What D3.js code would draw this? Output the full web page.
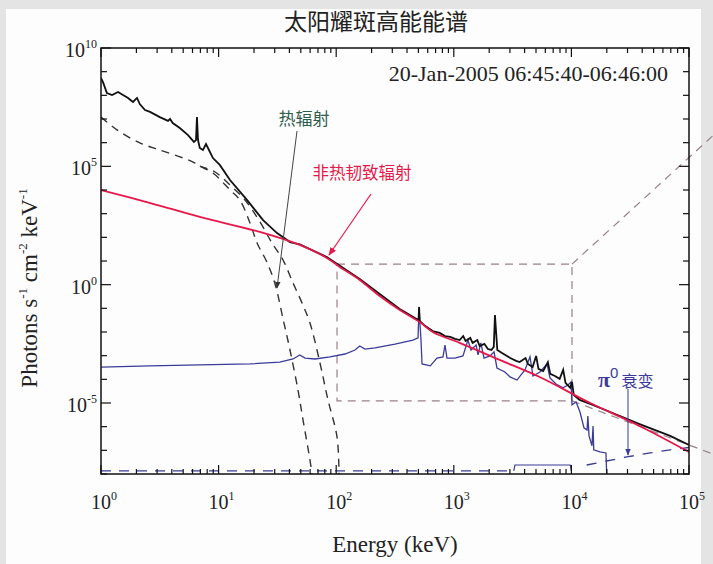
<!DOCTYPE html>
<html>
<head>
<meta charset="utf-8">
<script src="https://cdn.jsdelivr.net/npm/d3@7"></script>
<style>
  body { margin: 0; background: #e4e4e4; }
  svg { display: block; }
  .serif { font-family: "Liberation Serif", "Times New Roman", serif; fill: #222; }
  .cjk { font-family: "Noto Sans CJK SC", sans-serif; }
</style>
</head>
<body>
<div id="chart"></div>
<script>
const width = 713;
const height = 564;

// spectra, as [log10 E (keV), log10 flux]
const totalSpec = [[0,8.73],[0.017,8.56],[0.05,8.10],[0.094,8.01],[0.145,8.14],[0.187,8.01],[0.23,7.89],
  [0.272,7.72],[0.306,7.89],[0.33,7.63],[0.374,7.38],[0.417,7.30],[0.5,7.08],[0.57,6.92],[0.587,7.0],
  [0.61,6.83],[0.67,6.62],[0.74,6.32],[0.79,6.03],[0.808,6.11],[0.816,7.08],[0.825,6.11],[0.84,5.78],
  [0.867,5.69],[0.893,5.94],[0.918,5.69],[0.952,5.35],[1.01,5.06],[1.097,4.42],[1.241,3.58],[1.378,2.73],
  [1.497,2.18],[1.607,1.80],[1.69,1.70],[1.92,1.17],[2.2,0.24],[2.54,-1.03],[2.67,-1.41],[2.70,-1.49],
  [2.705,-0.94],[2.71,-1.53],[2.755,-1.74],[2.82,-1.96],[2.88,-2.04],[2.925,-2.17],[2.97,-2.21],
  [3.01,-2.29],[3.05,-2.34],[3.08,-2.17],[3.10,-2.38],[3.14,-2.25],[3.16,-2.46],[3.20,-2.34],[3.22,-2.59],
  [3.26,-2.50],[3.29,-2.72],[3.32,-2.76],[3.34,-2.63],[3.35,-1.28],[3.37,-2.76],[3.41,-2.89],[3.48,-3.10],
  [3.53,-3.22],[3.56,-3.27],[3.61,-3.10],[3.63,-3.35],[3.67,-3.48],[3.70,-3.01],[3.72,-3.56],[3.76,-3.65],
  [3.80,-3.27],[3.82,-3.77],[3.86,-3.86],[3.90,-3.98],[3.93,-3.60],[3.95,-4.15],[3.99,-4.36],[4.005,-4.11],
  [4.02,-4.66],[4.07,-4.87],[4.16,-5.04],[4.33,-5.38],[4.58,-5.89],[4.84,-6.39],[5.0,-6.77]];

const nonthermal = [[0,4.0],[0.42,3.45],[0.84,2.86],[1.35,2.23],[1.69,1.68],[1.92,1.13],[2.03,0.75],
  [2.2,0.2],[2.37,-0.48],[2.54,-1.07],[2.71,-1.58],[2.82,-2.0],[3.05,-2.46],[3.39,-3.18],[3.73,-3.9],
  [4.16,-5.0],[4.58,-5.97],[5.0,-7.07]];

const thermalA = [[0,7.08],[0.136,6.54],[0.33,5.99],[0.5,5.69],[0.7,5.35],[0.8,5.14],[0.84,5.01],
  [0.952,4.72],[1.097,4.0],[1.18,3.58],[1.267,2.61],[1.327,1.76],[1.41,0.96],[1.48,0.03],[1.55,-1.49],
  [1.607,-2.76],[1.675,-4.45],[1.718,-5.72],[1.777,-7.41],[1.794,-8.0]];

const thermalB = [[0.84,5.01],[0.97,4.76],[1.097,4.21],[1.224,3.58],[1.352,2.65],[1.454,1.76],
  [1.548,1.04],[1.633,0.07],[1.709,-0.77],[1.777,-1.62],[1.862,-3.31],[1.93,-4.87],[2.007,-6.43],
  [2.024,-8.0]];

const lineSpec = [[0,-3.48],[0.417,-3.43],[0.84,-3.39],[1.267,-3.35],[1.52,-3.27],[1.633,-3.14],
  [1.69,-2.97],[1.735,-3.10],[1.82,-3.14],[1.947,-3.05],[2.075,-2.93],[2.16,-2.76],[2.2,-2.59],
  [2.245,-2.72],[2.33,-2.67],[2.5,-2.51],[2.653,-2.34],[2.696,-2.25],[2.704,-0.98],[2.721,-2.34],
  [2.73,-3.35],[2.8,-3.43],[2.857,-3.10],[2.908,-3.05],[2.925,-2.55],[2.942,-3.10],[3.01,-3.10],
  [3.078,-3.01],[3.12,-2.34],[3.146,-2.76],[3.19,-2.55],[3.206,-2.97],[3.23,-2.46],[3.257,-3.10],
  [3.308,-3.01],[3.342,-2.84],[3.367,-3.52],[3.435,-3.69],[3.478,-3.90],[3.537,-4.03],[3.605,-3.60],
  [3.648,-3.05],[3.673,-3.86],[3.733,-3.69],[3.793,-3.35],[3.818,-3.94],[3.869,-4.20],[3.929,-4.36],
  [3.971,-4.24],[3.997,-4.11],[4.005,-5.08],[4.04,-4.96],[4.073,-5.38],[4.107,-6.05],[4.133,-6.14],
  [4.14,-5.55],[4.15,-6.39],[4.175,-6.81],[4.184,-5.97],[4.19,-6.98],[4.243,-7.07],[4.294,-7.11],
  [4.30,-8.0]];

const lineFloor = [[0,-7.87],[3.5,-7.87]];
const lineStep = [[3.51,-7.87],[3.52,-7.62],[3.99,-7.62],[4.0,-7.87]];
const pionSpec = [[4.13,-7.62],[4.47,-7.28],[4.67,-7.11],[4.84,-6.98],[5.0,-6.88]];

// zoom box and its connector lines
const boxE = [2.007, 4.005];
const boxF = [-4.91, 0.87];
const connTop = [[4.005,0.87],[5.2,6.28]];
const connBottom = [[4.005,-4.91],[5.2,-7.15]];

const xDecades = [0,1,2,3,4,5];
const yMajors = [10,5,0,-5];

const x = d3.scaleLog().domain([1, 1e5]).range([101, 689]);
const y = d3.scaleLog().domain([1e-8, 1e10]).range([474, 48]);

const line = d3.line().x(d => x(10 ** d[0])).y(d => y(10 ** d[1]));
const smooth = d3.line().x(d => x(10 ** d[0])).y(d => y(10 ** d[1])).curve(d3.curveCatmullRom);

const svg = d3.select("#chart").append("svg")
  .attr("width", width).attr("height", height);

// white page with gray scan border
svg.append("rect").attr("x", 0).attr("y", 0).attr("width", width).attr("height", height).attr("fill", "#e4e4e4");
svg.append("rect").attr("x", 6).attr("y", 9).attr("width", 695).attr("height", height - 9).attr("fill", "#fdfdfd");

const defs = svg.append("defs");
defs.append("clipPath").attr("id", "plot")
  .append("rect").attr("x", 101).attr("y", 48).attr("width", 588).attr("height", 426);

[["k", "#333"], ["r", "#e8174a"], ["b", "#3b3b9a"]].forEach(([id, c]) => {
  defs.append("marker").attr("id", "ah" + id).attr("viewBox", "0 0 10 10")
    .attr("refX", 9).attr("refY", 5).attr("markerWidth", 7).attr("markerHeight", 7)
    .attr("orient", "auto")
    .append("path").attr("d", "M0,1L10,5L0,9Z").attr("fill", c);
});

// zoom box + connectors
svg.append("rect")
  .attr("x", x(10 ** boxE[0])).attr("y", y(10 ** boxF[1]))
  .attr("width", x(10 ** boxE[1]) - x(10 ** boxE[0]))
  .attr("height", y(10 ** boxF[0]) - y(10 ** boxF[1]))
  .attr("fill", "none").attr("stroke", "#9a8088").attr("stroke-width", 1.2)
  .attr("stroke-dasharray", "8,6");
[connTop, connBottom].forEach(c => {
  svg.append("path").attr("d", line(c)).attr("fill", "none")
    .attr("stroke", "#9a8088").attr("stroke-width", 1.2).attr("stroke-dasharray", "8,6");
});

const plot = svg.append("g").attr("clip-path", "url(#plot)");

plot.append("path").attr("d", line(lineFloor)).attr("fill", "none")
  .attr("stroke", "#3b3b9a").attr("stroke-width", 1.2).attr("stroke-dasharray", "10,8");
plot.append("path").attr("d", line(lineStep)).attr("fill", "none")
  .attr("stroke", "#3b3b9a").attr("stroke-width", 1.2);

[thermalA, thermalB].forEach(t => {
  plot.append("path").attr("d", smooth(t)).attr("fill", "none")
    .attr("stroke", "#333").attr("stroke-width", 1.4).attr("stroke-dasharray", "8,6");
});

plot.append("path").attr("d", line(lineSpec)).attr("fill", "none")
  .attr("stroke", "#3b3b9a").attr("stroke-width", 1.3);

plot.append("path").attr("d", line(pionSpec)).attr("fill", "none")
  .attr("stroke", "#3b3b9a").attr("stroke-width", 1.3).attr("stroke-dasharray", "10,9");

plot.append("path").attr("d", line(totalSpec)).attr("fill", "none")
  .attr("stroke", "#111").attr("stroke-width", 1.8);

plot.append("path").attr("d", smooth(nonthermal)).attr("fill", "none")
  .attr("stroke", "#e8174a").attr("stroke-width", 1.8);

// frame and ticks
svg.append("rect").attr("x", 101).attr("y", 48).attr("width", 588).attr("height", 426)
  .attr("fill", "none").attr("stroke", "#111").attr("stroke-width", 1.5);

const xMinor = [];
xDecades.slice(0, -1).forEach(k => { for (let m = 2; m < 10; m++) xMinor.push(m * 10 ** k); });
const xMajor = xDecades.map(k => 10 ** k);
const yAll = d3.range(-8, 11).map(k => 10 ** k);
const yMaj = yMajors.map(k => 10 ** k);

const ticks = svg.append("g").attr("stroke", "#111").attr("stroke-width", 1.2);
xMajor.forEach(v => {
  ticks.append("line").attr("x1", x(v)).attr("x2", x(v)).attr("y1", 474).attr("y2", 465);
  ticks.append("line").attr("x1", x(v)).attr("x2", x(v)).attr("y1", 48).attr("y2", 57);
});
xMinor.forEach(v => {
  ticks.append("line").attr("x1", x(v)).attr("x2", x(v)).attr("y1", 474).attr("y2", 469);
  ticks.append("line").attr("x1", x(v)).attr("x2", x(v)).attr("y1", 48).attr("y2", 53);
});
yAll.forEach(v => {
  const len = yMaj.includes(v) ? 10 : 6;
  ticks.append("line").attr("x1", 101).attr("x2", 101 + len).attr("y1", y(v)).attr("y2", y(v));
  ticks.append("line").attr("x1", 689).attr("x2", 689 - len).attr("y1", y(v)).attr("y2", y(v));
});

function powLabel(g, k, px, py, anchor) {
  const t = g.append("text").attr("class", "serif").attr("x", px).attr("y", py)
    .attr("text-anchor", anchor).style("font-size", "20px");
  t.append("tspan").text("10");
  t.append("tspan").attr("dy", -9).style("font-size", "12px").text(k);
}
xDecades.forEach(k => powLabel(svg, k, x(10 ** k) + 3, 509, "middle"));
yMajors.forEach(k => powLabel(svg, k, 97, y(10 ** k) + 9, "end"));

svg.append("text").attr("class", "serif").attr("x", 395).attr("y", 552)
  .attr("text-anchor", "middle").style("font-size", "23px").text("Energy (keV)");

const yl = svg.append("text").attr("class", "serif")
  .attr("transform", "translate(37,288) rotate(-90)")
  .attr("text-anchor", "middle").style("font-size", "23px");
yl.append("tspan").text("Photons s");
yl.append("tspan").attr("dy", -10).style("font-size", "13px").text("-1");
yl.append("tspan").attr("dy", 10).text(" cm");
yl.append("tspan").attr("dy", -10).style("font-size", "13px").text("-2");
yl.append("tspan").attr("dy", 10).text(" keV");
yl.append("tspan").attr("dy", -10).style("font-size", "13px").text("-1");

svg.append("text").attr("class", "cjk").attr("x", 376).attr("y", 30)
  .attr("text-anchor", "middle").style("font-size", "23px").attr("fill", "#222")
  .text("太阳耀斑高能能谱");

svg.append("text").attr("class", "serif").attr("x", 668).attr("y", 81)
  .attr("text-anchor", "end").style("font-size", "22px")
  .text("20-Jan-2005 06:45:40-06:46:00");

// annotations
svg.append("text").attr("class", "cjk").attr("x", 304).attr("y", 125)
  .attr("text-anchor", "middle").style("font-size", "17px").attr("fill", "#2e5b4b").text("热辐射");
svg.append("line").attr("x1", 297).attr("y1", 131).attr("x2", 277).attr("y2", 288)
  .attr("stroke", "#444").attr("stroke-width", 1).attr("marker-end", "url(#ahk)");

svg.append("text").attr("class", "cjk").attr("x", 362).attr("y", 179)
  .attr("text-anchor", "middle").style("font-size", "16.5px").attr("fill", "#e8174a").text("非热韧致辐射");
svg.append("line").attr("x1", 371).attr("y1", 194).attr("x2", 329).attr("y2", 255)
  .attr("stroke", "#e8174a").attr("stroke-width", 1.2).attr("marker-end", "url(#ahr)");

const pl = svg.append("text").attr("x", 598).attr("y", 387).attr("fill", "#3b3b9a");
pl.append("tspan").style("font-family", "Liberation Serif, serif").style("font-size", "22px")
  .style("font-weight", "bold").text("π");
pl.append("tspan").attr("dy", -9).style("font-family", "Liberation Sans, sans-serif")
  .style("font-size", "15px").text("0");
pl.append("tspan").attr("dy", 9).attr("dx", 3).attr("class", "cjk").style("font-size", "16px").text("衰变");
svg.append("line").attr("x1", 628).attr("y1", 389).attr("x2", 628).attr("y2", 455)
  .attr("stroke", "#3b3b9a").attr("stroke-width", 1).attr("marker-end", "url(#ahb)");
</script>
</body>
</html>
